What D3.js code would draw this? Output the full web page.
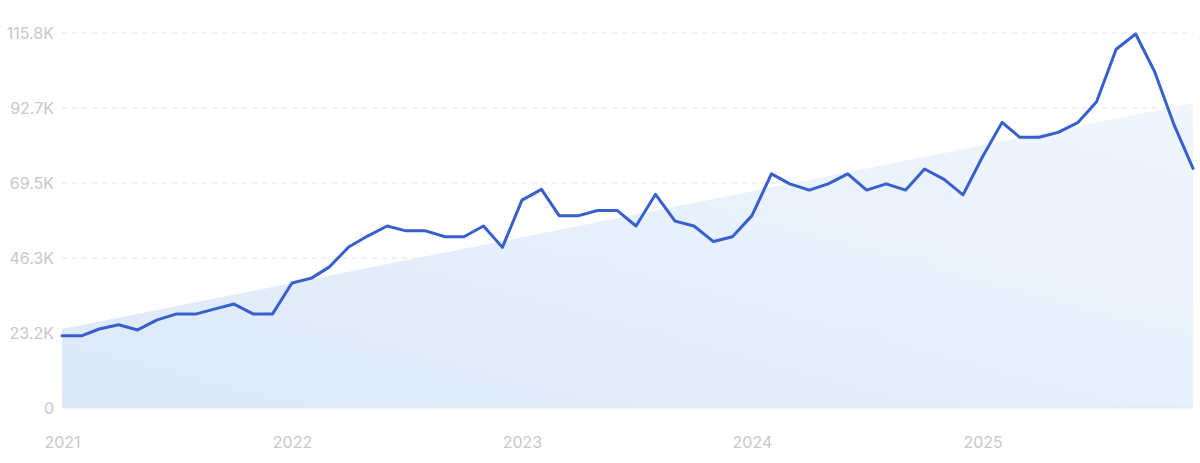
<!DOCTYPE html>
<html>
<head>
<meta charset="utf-8">
<script src="https://cdn.jsdelivr.net/npm/d3@7"></script>
<style>
  html, body { margin: 0; padding: 0; background: #ffffff; }
  svg { display: block; }
</style>
</head>
<body>
<svg id="chart" width="1200" height="463"></svg>
<script>
// ---- data ----
const months = d3.range(0, 60).map(i => new Date(2021, i, 1));
const values = [
  22.3, 22.3, 24.4, 25.7, 24.1, 27.2, 29.0, 29.0, 30.6, 32.1, 29.0, 29.0,
  38.6, 40.1, 43.5, 49.7, 53.1, 56.2, 54.7, 54.7, 52.9, 52.9, 56.2, 49.6,
  64.2, 67.5, 59.4, 59.4, 61.0, 61.0, 56.2, 66.0, 57.7, 56.2, 51.4, 52.9,
  59.4, 72.3, 69.2, 67.3, 69.2, 72.3, 67.3, 69.2, 67.3, 73.8, 70.6, 65.8,
  77.6, 88.2, 83.6, 83.6, 85.1, 88.1, 94.6, 110.8, 115.5, 103.9, 87.4, 74.0
];
const trendValues = [24.4, 94.1];           // trend band at first and last month
const yTickValues = [0, 23.16, 46.32, 69.48, 92.64, 115.8];
const yTickLabels = ["0", "23.2K", "46.3K", "69.5K", "92.7K", "115.8K"];
const xTickDates = [2021, 2022, 2023, 2024, 2025].map(yr => new Date(yr, 0, 1));
const xTickLabels = ["2021", "2022", "2023", "2024", "2025"];

// ---- layout ----
const svg = d3.select("#chart");
const plotLeft = 62, plotRight = 1193, plotTop = 33, plotBottom = 408;

const x = d3.scaleTime()
  .domain([months[0], months[months.length - 1]])
  .range([plotLeft, plotRight]);
const y = d3.scaleLinear().domain([0, 115.8]).range([plotBottom, plotTop]);

// gradient
const defs = svg.append("defs");
const grad = defs.append("linearGradient")
  .attr("id", "areaGrad")
  .attr("x1", "0%").attr("y1", "100%").attr("x2", "100%").attr("y2", "0%");
grad.append("stop").attr("offset", "0%").attr("stop-color", "#d8e6f8");
grad.append("stop").attr("offset", "100%").attr("stop-color", "#eff5fd");

// gridlines
svg.append("g").selectAll("line")
  .data(yTickValues.slice(1))
  .join("line")
  .attr("x1", plotLeft).attr("x2", plotRight)
  .attr("y1", d => y(d)).attr("y2", d => y(d))
  .attr("stroke", "#e3e3e3")
  .attr("stroke-width", 1)
  .attr("stroke-dasharray", "5,5");

// trend area
const trendData = [
  { date: months[0], v: trendValues[0] },
  { date: months[months.length - 1], v: trendValues[1] }
];
svg.append("path")
  .datum(trendData)
  .attr("fill", "url(#areaGrad)")
  .attr("fill-opacity", 0.9)
  .attr("d", d3.area().x(d => x(d.date)).y0(y(0)).y1(d => y(d.v)));

// bottom edge of area
svg.append("line")
  .attr("x1", plotLeft).attr("x2", plotRight)
  .attr("y1", y(0)).attr("y2", y(0))
  .attr("stroke", "#dfe8f5").attr("stroke-width", 1);

// line
svg.append("path")
  .datum(values)
  .attr("fill", "none")
  .attr("stroke", "#3760cd")
  .attr("stroke-width", 3)
  .attr("stroke-linejoin", "round")
  .attr("stroke-linecap", "round")
  .attr("d", d3.line().x((d, i) => x(months[i])).y(d => y(d)));

// y axis
const yAxis = d3.axisLeft(y)
  .tickValues(yTickValues)
  .tickFormat((d, i) => yTickLabels[i])
  .tickSize(0)
  .tickPadding(0);
const gy = svg.append("g")
  .attr("transform", `translate(${plotLeft - 8},0)`)
  .call(yAxis);
gy.select(".domain").remove();
gy.selectAll("text")
  .attr("fill", "#c8c8c8")
  .attr("font-family", "Inter, 'Noto Sans', sans-serif")
  .attr("font-size", 16)
  .attr("dy", "0.35em");

// x axis
const xAxis = d3.axisBottom(x)
  .tickValues(xTickDates)
  .tickFormat((d, i) => xTickLabels[i])
  .tickSize(0)
  .tickPadding(0);
const gx = svg.append("g")
  .attr("transform", `translate(0,${plotBottom + 34})`)
  .call(xAxis);
gx.select(".domain").remove();
gx.selectAll("text")
  .attr("fill", "#c8c8c8")
  .attr("font-family", "Inter, 'Noto Sans', sans-serif")
  .attr("font-size", 16)
  .attr("dy", "0.35em");
</script>
</body>
</html>
